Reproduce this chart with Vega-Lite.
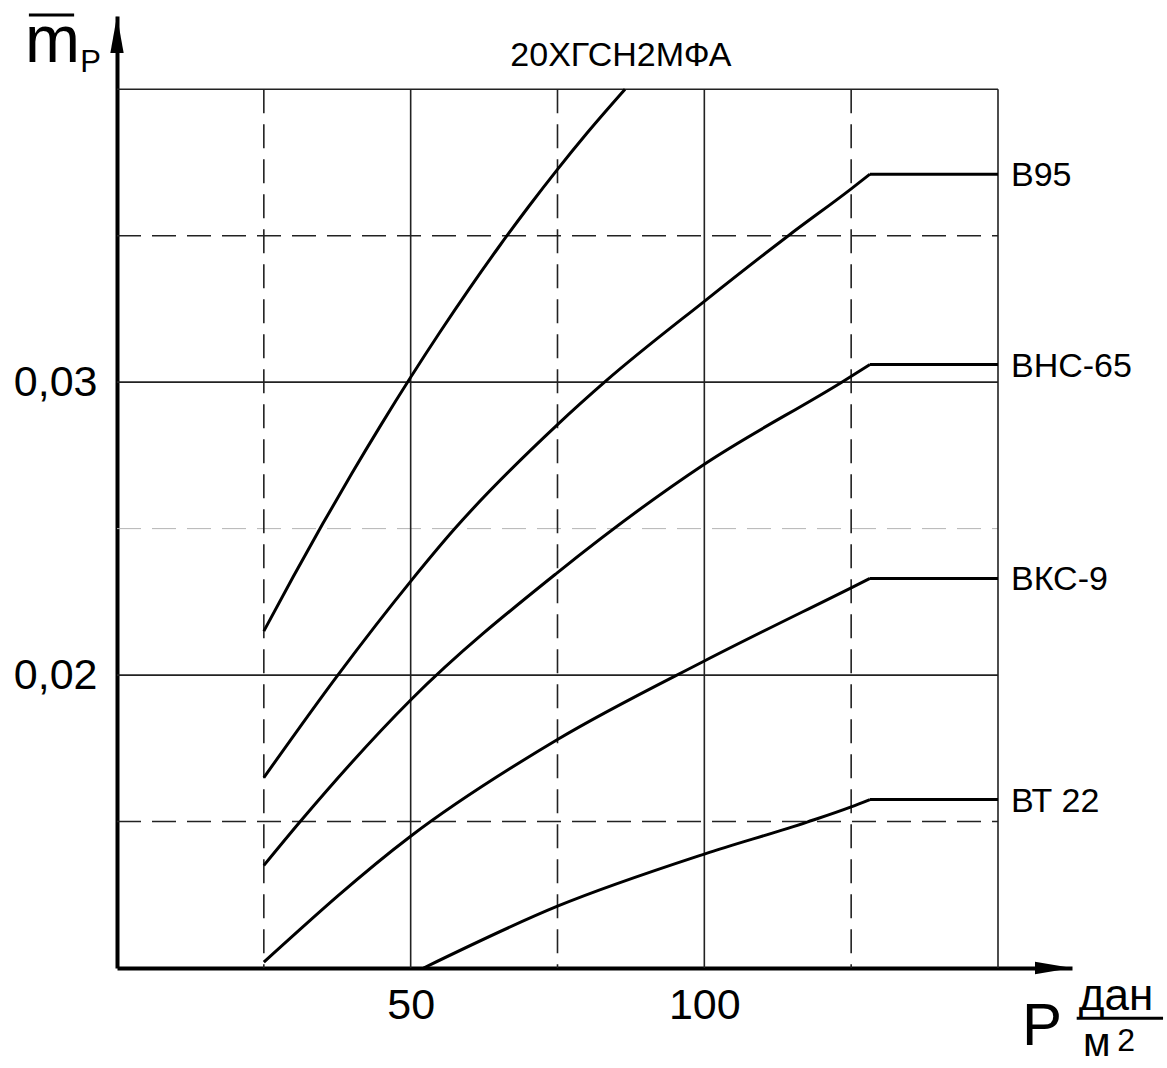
{
  "$schema": "https://vega.github.io/schema/vega-lite/v6.json",
  "width": 955,
  "height": 952,
  "autosize": {"type": "none"},
  "padding": {"left": 117, "top": 16, "right": 95, "bottom": 100},
  "background": "white",
  "config": {
    "view": {"stroke": null},
    "font": "Liberation Sans",
    "text": {"font": "Liberation Sans", "color": "black"},
    "axis": {
      "grid": false,
      "ticks": false,
      "domainColor": "black",
      "domainWidth": 4,
      "labelFont": "Liberation Sans",
      "labelFontSize": 43,
      "labelColor": "black"
    }
  },
  "datasets": {
    "one": [{}],
    "curves": [
      {"s": "A", "seg": "c", "P": 25, "m": 0.021500},
      {"s": "A", "seg": "c", "P": 30, "m": 0.023359},
      {"s": "A", "seg": "c", "P": 35, "m": 0.025155},
      {"s": "A", "seg": "c", "P": 40, "m": 0.026888},
      {"s": "A", "seg": "c", "P": 45, "m": 0.028558},
      {"s": "A", "seg": "c", "P": 50, "m": 0.030166},
      {"s": "A", "seg": "c", "P": 55, "m": 0.031711},
      {"s": "A", "seg": "c", "P": 60, "m": 0.033194},
      {"s": "A", "seg": "c", "P": 65, "m": 0.034614},
      {"s": "A", "seg": "c", "P": 70, "m": 0.035971},
      {"s": "A", "seg": "c", "P": 75, "m": 0.037265},
      {"s": "A", "seg": "c", "P": 80, "m": 0.038497},
      {"s": "A", "seg": "c", "P": 86.5, "m": 0.040000},

      {"s": "В95", "seg": "c", "P": 25, "m": 0.01650},
      {"s": "В95", "seg": "c", "P": 37.6, "m": 0.02000},
      {"s": "В95", "seg": "c", "P": 50, "m": 0.02320},
      {"s": "В95", "seg": "c", "P": 57.3, "m": 0.02495},
      {"s": "В95", "seg": "c", "P": 75, "m": 0.02855},
      {"s": "В95", "seg": "c", "P": 83.3, "m": 0.03005},
      {"s": "В95", "seg": "c", "P": 100, "m": 0.03276},
      {"s": "В95", "seg": "c", "P": 114.3, "m": 0.03500},
      {"s": "В95", "seg": "c", "P": 125, "m": 0.03660},
      {"s": "В95", "seg": "c", "P": 128.2, "m": 0.03710},
      {"s": "В95", "seg": "f", "P": 128.2, "m": 0.03710},
      {"s": "В95", "seg": "f", "P": 150, "m": 0.03710},

      {"s": "ВНС-65", "seg": "c", "P": 25, "m": 0.01350},
      {"s": "ВНС-65", "seg": "c", "P": 31.2, "m": 0.01500},
      {"s": "ВНС-65", "seg": "c", "P": 50, "m": 0.01915},
      {"s": "ВНС-65", "seg": "c", "P": 75, "m": 0.02350},
      {"s": "ВНС-65", "seg": "c", "P": 100, "m": 0.02720},
      {"s": "ВНС-65", "seg": "c", "P": 123.4, "m": 0.03000},
      {"s": "ВНС-65", "seg": "c", "P": 128.2, "m": 0.03060},
      {"s": "ВНС-65", "seg": "f", "P": 128.2, "m": 0.03060},
      {"s": "ВНС-65", "seg": "f", "P": 150, "m": 0.03060},

      {"s": "ВКС-9", "seg": "c", "P": 25, "m": 0.01020},
      {"s": "ВКС-9", "seg": "c", "P": 50, "m": 0.01450},
      {"s": "ВКС-9", "seg": "c", "P": 75, "m": 0.01780},
      {"s": "ВКС-9", "seg": "c", "P": 100, "m": 0.02048},
      {"s": "ВКС-9", "seg": "c", "P": 125, "m": 0.02298},
      {"s": "ВКС-9", "seg": "c", "P": 128.2, "m": 0.02330},
      {"s": "ВКС-9", "seg": "f", "P": 128.2, "m": 0.02330},
      {"s": "ВКС-9", "seg": "f", "P": 150, "m": 0.02330},

      {"s": "ВТ 22", "seg": "c", "P": 52.2, "m": 0.01000},
      {"s": "ВТ 22", "seg": "c", "P": 75, "m": 0.01211},
      {"s": "ВТ 22", "seg": "c", "P": 100, "m": 0.01389},
      {"s": "ВТ 22", "seg": "c", "P": 117.5, "m": 0.01498},
      {"s": "ВТ 22", "seg": "c", "P": 125, "m": 0.01550},
      {"s": "ВТ 22", "seg": "c", "P": 128.2, "m": 0.01575},
      {"s": "ВТ 22", "seg": "f", "P": 128.2, "m": 0.01575},
      {"s": "ВТ 22", "seg": "f", "P": 150, "m": 0.01575}
    ]
  },
  "layer": [
    {
      "data": {"values": [{"m": 0.025}]},
      "mark": {"type": "rule", "stroke": "#b4b4b4", "strokeWidth": 1, "strokeDash": [24, 11]},
      "encoding": {
        "y": {"field": "m", "type": "quantitative", "title": null, "scale": {"domain": [0.01, 0.0425], "nice": false, "zero": false}},
        "x": {"datum": 0, "type": "quantitative", "title": null, "scale": {"domain": [0, 162.6], "nice": false, "zero": false}},
        "x2": {"datum": 150}
      }
    },
    {
      "data": {"values": [{"m": 0.015}, {"m": 0.035}]},
      "mark": {"type": "rule", "stroke": "#222222", "strokeWidth": 1.6, "strokeDash": [24, 11]},
      "encoding": {
        "y": {"field": "m", "type": "quantitative", "title": null},
        "x": {"datum": 0, "type": "quantitative", "title": null},
        "x2": {"datum": 150}
      }
    },
    {
      "data": {"values": [{"m": 0.02}, {"m": 0.03}, {"m": 0.04}]},
      "mark": {"type": "rule", "stroke": "#222222", "strokeWidth": 1.6},
      "encoding": {
        "y": {"field": "m", "type": "quantitative", "title": null},
        "x": {"datum": 0, "type": "quantitative", "title": null},
        "x2": {"datum": 150}
      }
    },
    {
      "data": {"values": [{"P": 25}, {"P": 75}, {"P": 125}]},
      "mark": {"type": "rule", "stroke": "#222222", "strokeWidth": 1.6, "strokeDash": [24, 11]},
      "encoding": {
        "x": {"field": "P", "type": "quantitative", "title": null},
        "y": {"datum": 0.04, "type": "quantitative", "title": null},
        "y2": {"datum": 0.01}
      }
    },
    {
      "data": {"values": [{"P": 50}, {"P": 100}, {"P": 150}]},
      "mark": {"type": "rule", "stroke": "#222222", "strokeWidth": 1.6},
      "encoding": {
        "x": {"field": "P", "type": "quantitative", "title": null},
        "y": {"datum": 0.04, "type": "quantitative", "title": null},
        "y2": {"datum": 0.01}
      }
    },
    {
      "data": {"name": "curves"},
      "mark": {"type": "line", "interpolate": "monotone", "stroke": "black", "strokeWidth": 3},
      "encoding": {
        "x": {
          "field": "P", "type": "quantitative", "title": null,
          "axis": {"values": [50, 100], "title": null, "labelPadding": 16, "domainWidth": 4, "domainColor": "black", "ticks": false, "grid": false}
        },
        "y": {
          "field": "m", "type": "quantitative", "title": null,
          "axis": {"values": [0.02, 0.03], "title": null, "labelPadding": 20, "labelExpr": "replace(format(datum.value, '.2f'), '.', ',')", "domainWidth": 4, "domainColor": "black", "ticks": false, "grid": false}
        },
        "detail": [{"field": "s"}, {"field": "seg"}]
      }
    },
    {
      "data": {"name": "curves"},
      "transform": [{"filter": "datum.P == 150"}],
      "mark": {"type": "text", "align": "left", "baseline": "middle", "dx": 13, "dy": 2, "fontSize": 34, "font": "Liberation Sans", "color": "black"},
      "encoding": {
        "x": {"field": "P", "type": "quantitative", "title": null},
        "y": {"field": "m", "type": "quantitative", "title": null},
        "text": {"field": "s"}
      }
    },
    {
      "data": {"name": "one"},
      "mark": {"type": "point", "shape": "M0,0L-1,-0.17L-1,0.17Z", "size": 5476, "filled": true, "color": "black", "opacity": 1, "strokeWidth": 0},
      "encoding": {
        "x": {"datum": 162.6, "type": "quantitative", "title": null},
        "y": {"datum": 0.01, "type": "quantitative", "title": null}
      }
    },
    {
      "data": {"name": "one"},
      "mark": {"type": "point", "shape": "M0,0L-0.18,1L0.18,1Z", "size": 5476, "filled": true, "color": "black", "opacity": 1, "strokeWidth": 0},
      "encoding": {
        "x": {"datum": 0, "type": "quantitative", "title": null},
        "y": {"datum": 0.0425, "type": "quantitative", "title": null}
      }
    },
    {
      "data": {"name": "one"},
      "mark": {"type": "text", "text": "20ХГСН2МФА", "align": "center", "baseline": "middle", "fontSize": 34, "font": "Liberation Sans", "color": "black"},
      "encoding": {
        "x": {"datum": 85.8, "type": "quantitative", "title": null},
        "y": {"datum": 0.04114, "type": "quantitative", "title": null}
      }
    },
    {
      "data": {"name": "one"},
      "mark": {"type": "text", "text": "m", "align": "center", "baseline": "alphabetic", "fontSize": 66, "font": "Liberation Sans", "color": "black"},
      "encoding": {
        "x": {"datum": -11.0, "type": "quantitative", "title": null},
        "y": {"datum": 0.04093, "type": "quantitative", "title": null}
      }
    },
    {
      "data": {"name": "one"},
      "mark": {"type": "rule", "stroke": "black", "strokeWidth": 3},
      "encoding": {
        "x": {"datum": -15.0, "type": "quantitative", "title": null},
        "x2": {"datum": -7.3},
        "y": {"datum": 0.04253, "type": "quantitative", "title": null}
      }
    },
    {
      "data": {"name": "one"},
      "mark": {"type": "text", "text": "P", "align": "center", "baseline": "alphabetic", "fontSize": 31, "font": "Liberation Sans", "color": "black"},
      "encoding": {
        "x": {"datum": -4.5, "type": "quantitative", "title": null},
        "y": {"datum": 0.04059, "type": "quantitative", "title": null}
      }
    },
    {
      "data": {"name": "one"},
      "mark": {"type": "text", "text": "P", "align": "center", "baseline": "alphabetic", "fontSize": 60, "font": "Liberation Sans", "color": "black"},
      "encoding": {
        "x": {"datum": 157.5, "type": "quantitative", "title": null},
        "y": {"datum": 0.007375, "type": "quantitative", "title": null}
      }
    },
    {
      "data": {"name": "one"},
      "mark": {"type": "text", "text": "дан", "align": "center", "baseline": "alphabetic", "fontSize": 44, "font": "Liberation Sans", "color": "black"},
      "encoding": {
        "x": {"datum": 170.1, "type": "quantitative", "title": null},
        "y": {"datum": 0.00857, "type": "quantitative", "title": null}
      }
    },
    {
      "data": {"name": "one"},
      "mark": {"type": "rule", "stroke": "black", "strokeWidth": 3},
      "encoding": {
        "x": {"datum": 163.4, "type": "quantitative", "title": null},
        "x2": {"datum": 178.1},
        "y": {"datum": 0.008285, "type": "quantitative", "title": null}
      }
    },
    {
      "data": {"name": "one"},
      "mark": {"type": "text", "text": "м", "align": "center", "baseline": "alphabetic", "fontSize": 40, "font": "Liberation Sans", "color": "black"},
      "encoding": {
        "x": {"datum": 166.8, "type": "quantitative", "title": null},
        "y": {"datum": 0.00699, "type": "quantitative", "title": null}
      }
    },
    {
      "data": {"name": "one"},
      "mark": {"type": "text", "text": "2", "align": "center", "baseline": "alphabetic", "fontSize": 32, "font": "Liberation Sans", "color": "black"},
      "encoding": {
        "x": {"datum": 171.8, "type": "quantitative", "title": null},
        "y": {"datum": 0.00717, "type": "quantitative", "title": null}
      }
    }
  ]
}
